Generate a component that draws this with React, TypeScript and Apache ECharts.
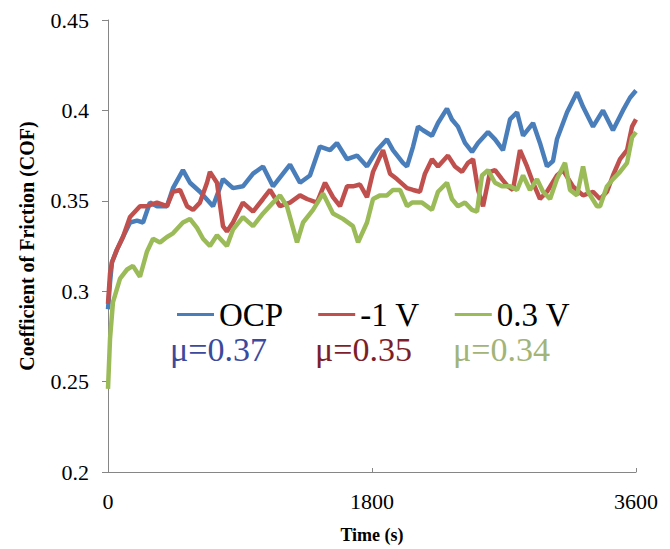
import React, { useEffect, useRef } from "react";
import * as echarts from "echarts";

const seriesNames = ["OCP", "-1 V", "0.3 V"];
const seriesColors = ["#4a7ebb", "#c0504d", "#9bbb59"];
const muLabels = ["μ=0.37", "μ=0.35", "μ=0.34"];
const muColors = ["#3b4a9c", "#7d1f2a", "#a2b478"];
const xTicks = [0, 1800, 3600];
const yTicks = [0.2, 0.25, 0.3, 0.35, 0.4, 0.45];

// [time (s), COF]
const ocp = [
  [0, 0.29], [14, 0.305], [27, 0.316], [61, 0.323], [102, 0.33], [150, 0.338], [198, 0.339],
  [239, 0.338], [286, 0.349], [334, 0.347], [402, 0.347], [443, 0.357], [511, 0.367], [559, 0.36],
  [627, 0.355], [716, 0.347], [784, 0.362], [852, 0.357], [920, 0.358], [989, 0.365], [1057, 0.369],
  [1125, 0.358], [1241, 0.37], [1309, 0.36], [1377, 0.364], [1445, 0.38], [1514, 0.378], [1561, 0.382],
  [1630, 0.373], [1698, 0.375], [1766, 0.369], [1834, 0.378], [1902, 0.384], [1943, 0.378], [2011, 0.371],
  [2039, 0.369], [2080, 0.38], [2114, 0.391], [2148, 0.389], [2209, 0.386], [2250, 0.393], [2311, 0.401],
  [2345, 0.395], [2386, 0.391], [2434, 0.382], [2482, 0.377], [2523, 0.382], [2591, 0.388], [2639, 0.384],
  [2693, 0.378], [2741, 0.395], [2789, 0.399], [2830, 0.386], [2898, 0.393], [2945, 0.382], [2993, 0.369],
  [3034, 0.372], [3061, 0.384], [3130, 0.399], [3198, 0.41], [3239, 0.402], [3307, 0.391], [3375, 0.4],
  [3443, 0.389], [3511, 0.4], [3559, 0.407], [3600, 0.411],
];

const minus1V = [
  [0, 0.293], [14, 0.31], [27, 0.316], [61, 0.323], [102, 0.33], [150, 0.341], [218, 0.347], [266, 0.347],
  [334, 0.349], [402, 0.347], [443, 0.355], [491, 0.356], [539, 0.347], [580, 0.345], [627, 0.349],
  [675, 0.36], [695, 0.366], [743, 0.36], [784, 0.336], [811, 0.333], [852, 0.338], [920, 0.349],
  [989, 0.344], [1057, 0.351], [1105, 0.356], [1173, 0.347], [1241, 0.349], [1309, 0.353], [1357, 0.351],
  [1425, 0.349], [1480, 0.36], [1534, 0.352], [1582, 0.347], [1630, 0.358], [1670, 0.358], [1718, 0.359],
  [1766, 0.352], [1807, 0.366], [1875, 0.378], [1923, 0.365], [1970, 0.362], [2039, 0.357], [2080, 0.356],
  [2127, 0.355], [2161, 0.365], [2209, 0.373], [2250, 0.369], [2318, 0.375], [2366, 0.369], [2414, 0.366],
  [2455, 0.371], [2489, 0.373], [2523, 0.356], [2557, 0.347], [2605, 0.366], [2639, 0.367], [2686, 0.362],
  [2727, 0.358], [2761, 0.356], [2809, 0.378], [2857, 0.369], [2898, 0.36], [2945, 0.351], [2993, 0.355],
  [3061, 0.364], [3102, 0.367], [3170, 0.358], [3239, 0.353], [3307, 0.355], [3355, 0.351], [3402, 0.355],
  [3443, 0.364], [3491, 0.373], [3539, 0.378], [3573, 0.391], [3600, 0.395],
];

const plus03V = [
  [0, 0.246], [14, 0.274], [34, 0.294], [82, 0.307], [130, 0.312], [170, 0.314], [218, 0.308], [266, 0.322],
  [307, 0.329], [355, 0.327], [402, 0.33], [443, 0.332], [511, 0.338], [559, 0.34], [607, 0.335],
  [648, 0.329], [695, 0.325], [743, 0.331], [811, 0.325], [852, 0.334], [920, 0.341], [989, 0.336],
  [1057, 0.343], [1125, 0.349], [1173, 0.353], [1220, 0.347], [1289, 0.327], [1330, 0.338], [1398, 0.345],
  [1466, 0.354], [1534, 0.343], [1602, 0.34], [1670, 0.336], [1705, 0.327], [1766, 0.338], [1807, 0.351],
  [1855, 0.353], [1902, 0.353], [1943, 0.356], [1991, 0.356], [2039, 0.347], [2073, 0.349], [2141, 0.349],
  [2209, 0.345], [2250, 0.355], [2311, 0.36], [2345, 0.351], [2386, 0.347], [2434, 0.349], [2482, 0.345],
  [2516, 0.344], [2550, 0.364], [2591, 0.367], [2639, 0.36], [2686, 0.358], [2741, 0.358], [2789, 0.356],
  [2830, 0.364], [2877, 0.356], [2925, 0.362], [2966, 0.355], [3014, 0.351], [3061, 0.362], [3116, 0.371],
  [3150, 0.356], [3198, 0.353], [3239, 0.369], [3273, 0.355], [3334, 0.347], [3355, 0.347], [3402, 0.358],
  [3443, 0.362], [3491, 0.366], [3539, 0.371], [3573, 0.385], [3600, 0.388],
];

const seriesData = [ocp, minus1V, plus03V];
const SERIF = '"Liberation Serif", "Times New Roman", serif';

export default function App() {
  const ref = useRef<HTMLDivElement>(null);
  useEffect(() => {
    if (!ref.current) return;
    const chart = echarts.init(ref.current, undefined, { renderer: "svg" });
    const muX = [170, 315, 453];
    chart.setOption({
      animation: false,
      backgroundColor: "#ffffff",
      grid: { left: 108, right: 34, top: 20, bottom: 75, containLabel: false },
      legend: {
        left: 172,
        top: 293,
        icon: "rect",
        itemWidth: 37,
        itemHeight: 3,
        itemGap: 35,
        data: seriesNames,
        textStyle: { fontFamily: SERIF, fontSize: 33, color: "#000" },
      },
      xAxis: {
        type: "value",
        min: 0,
        max: 3600,
        interval: 1800,
        name: "Time (s)",
        nameLocation: "middle",
        nameGap: 54,
        nameTextStyle: { fontFamily: SERIF, fontSize: 18, fontWeight: "bold", color: "#000" },
        axisLine: { lineStyle: { color: "#868686", width: 1 } },
        axisTick: { inside: true, length: 4, lineStyle: { color: "#868686" } },
        axisLabel: {
          fontFamily: SERIF,
          fontSize: 22,
          color: "#000",
          margin: 18,
          formatter: (v: number) => (xTicks.includes(v) ? String(v) : ""),
        },
        splitLine: { show: false },
      },
      yAxis: {
        type: "value",
        min: 0.2,
        max: 0.45,
        interval: 0.05,
        name: "Coefficient of Friction (COF)",
        nameLocation: "middle",
        nameGap: 71,
        nameTextStyle: { fontFamily: SERIF, fontSize: 20, fontWeight: "bold", color: "#000" },
        axisLine: { show: true, lineStyle: { color: "#868686", width: 1 } },
        axisTick: { show: true, length: 6, lineStyle: { color: "#868686" } },
        axisLabel: {
          fontFamily: SERIF,
          fontSize: 22,
          color: "#000",
          margin: 19,
          formatter: (v: number) => {
            const t = yTicks.find((y) => Math.abs(y - v) < 1e-9);
            return t === undefined ? "" : String(t);
          },
        },
        splitLine: { show: false },
      },
      graphic: muLabels.map((t, i) => ({
        type: "text",
        x: muX[i],
        y: 349,
        style: {
          text: t,
          font: `34px ${SERIF}`,
          fill: muColors[i],
          align: "left",
          verticalAlign: "middle",
        },
      })),
      series: seriesNames.map((n, i) => ({
        name: n,
        type: "line",
        data: seriesData[i],
        symbol: "none",
        color: seriesColors[i],
        lineStyle: { width: 4.5, color: seriesColors[i] },
      })),
    });
    return () => chart.dispose();
  }, []);
  return (
    <div
      ref={ref}
      style={{ position: "fixed", left: 0, top: 0, width: 670, height: 549 }}
    />
  );
}
